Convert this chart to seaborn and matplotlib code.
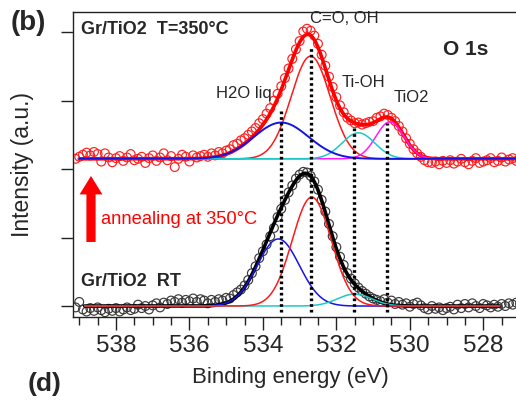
import numpy as np
import pandas as pd
import matplotlib
matplotlib.use("Agg")
import matplotlib.pyplot as plt
from matplotlib.patches import FancyArrow
import seaborn as sns

# ---------------- data ----------------
# measured points, 0.1 eV steps starting at 539.1 eV (intensity above own baseline)
e_start, e_step = 539.1, 0.1
i_350 = [0.00, 0.03, 0.06, 0.09, 0.05, 0.10, 0.07, -0.04, 0.08, 0.02,
         -0.05, 0.01, 0.04, -0.03, 0.02, 0.07, -0.02, 0.00, 0.03, -0.06,
         0.01, 0.05, -0.03, 0.02, 0.08, -0.02, 0.04, -0.12, 0.00, 0.06,
         0.03, -0.04, 0.05, 0.02, 0.04, 0.06, 0.03, 0.08, 0.05, 0.10,
         0.08, 0.12, 0.14, 0.20, 0.22, 0.27, 0.30, 0.35, 0.40, 0.45,
         0.52, 0.58, 0.66, 0.74, 0.85, 0.95, 1.06, 1.18, 1.32, 1.46,
         1.60, 1.72, 1.86, 1.90, 1.87, 1.80, 1.68, 1.52, 1.36, 1.20,
         1.05, 0.90, 0.78, 0.68, 0.60, 0.56, 0.52, 0.53, 0.50, 0.52,
         0.54, 0.55, 0.60, 0.62, 0.66, 0.64, 0.60, 0.55, 0.48, 0.40,
         0.30, 0.22, 0.14, 0.08, 0.03, -0.02, -0.05, -0.06, -0.04, -0.08,
         -0.03, -0.06, -0.02, -0.07, -0.04, 0.00, -0.05, -0.08, -0.03, 0.01,
         -0.06, -0.04, -0.02, 0.01, -0.05, -0.03, 0.02, -0.04, -0.01, 0.01,
         -0.03, -0.02]
i_rt = [-0.02, 0.06, -0.05, -0.08, -0.03, -0.07, -0.02, -0.06, -0.09, -0.04,
        -0.07, -0.03, -0.08, -0.05, -0.02, -0.06, -0.04, 0.02, -0.03, 0.00,
        -0.05, 0.01, 0.04, -0.02, 0.05, 0.03, 0.08, 0.06, 0.10, 0.05,
        0.09, 0.07, 0.11, 0.06, 0.10, 0.08, 0.04, 0.09, 0.06, 0.10,
        0.08, 0.12, 0.11, 0.16, 0.20, 0.24, 0.30, 0.38, 0.48, 0.58,
        0.70, 0.80, 0.90, 1.02, 1.14, 1.30, 1.42, 1.55, 1.66, 1.76,
        1.86, 1.92, 1.96, 1.95, 1.90, 1.82, 1.70, 1.55, 1.38, 1.20,
        1.02, 0.86, 0.72, 0.60, 0.48, 0.40, 0.33, 0.27, 0.22, 0.18,
        0.14, 0.11, 0.09, 0.07, 0.10, 0.05, 0.08, 0.03, 0.06, 0.02,
        0.04, -0.01, 0.03, 0.05, 0.01, -0.03, -0.05, 0.00, -0.04, -0.02,
        -0.06, -0.03, -0.01, -0.05, 0.02, -0.03, 0.03, -0.02, 0.04, 0.00,
        -0.03, 0.03, 0.01, -0.02, 0.02, -0.01, 0.03, 0.00, 0.04, 0.02,
        0.05, 0.03]
offset_350 = 2.15          # vertical stacking of the annealed spectrum

# fitted Gaussian components: name, centre (eV), height, FWHM (eV)
comp_names   = ["H2O liq", "C=O, OH", "Ti-OH", "TiO2"]
comp_colors  = ["#1414e6", "#ff1a1a", "#1ec8c8", "#ff1aff"]
c350_centre  = [533.50, 532.70, 531.40, 530.54]
c350_height  = [0.53, 1.50, 0.38, 0.54]
c350_fwhm    = [1.75, 1.25, 1.05, 0.90]
crt_centre   = [533.58, 532.67, 531.50]
crt_height   = [0.98, 1.59, 0.175]
crt_fwhm     = [1.35, 1.25, 1.10]
fit350_range = (539.0, 526.9)
fitrt_range  = (538.85, 527.55)

# dotted marker lines: position, top
mark_pos = [533.50, 532.70, 531.52, 530.62]
mark_top = [2.88, 3.77, 2.62, 2.68]
mark_bottom = -0.09

xticks_major = [538, 536, 534, 532, 530, 528]

# ---------------- style ----------------
sns.set_style("ticks")
plt.rcParams["font.family"] = ["Liberation Sans", "DejaVu Sans"]

fig = plt.figure(figsize=(5.16, 4.0), dpi=100)
W, H = 516, 400
ax_l, ax_r, ax_t, ax_b = 73, 520, 12.3, 317
ax = fig.add_axes([ax_l / W, 1 - ax_b / H, (ax_r - ax_l) / W, (ax_b - ax_t) / H])


def gauss(x, c, h, fwhm):
    s = fwhm / 2.3548
    return h * np.exp(-(x - c) ** 2 / (2 * s * s))


energy_350 = np.round(e_start - e_step * np.arange(len(i_350)), 2)
energy_rt = np.round(e_start - e_step * np.arange(len(i_rt)), 2)

# ---- annealed spectrum (350 C) ----
df350 = pd.DataFrame({"E": energy_350, "I": np.array(i_350) + offset_350})
sns.scatterplot(data=df350, x="E", y="I", ax=ax, marker="o", s=40,
                facecolor="none", edgecolor="#ff2020", linewidth=0.85, zorder=2)
g350 = np.linspace(*fit350_range, 700)
comps350 = [gauss(g350, c, h, f) for c, h, f in zip(c350_centre, c350_height, c350_fwhm)]
sns.lineplot(x=g350, y=np.sum(comps350, axis=0) + offset_350, ax=ax, color="#ff0000",
             lw=2.6, estimator=None, sort=False, zorder=3)
for idx in [1, 3, 2, 0]:
    sns.lineplot(x=g350, y=comps350[idx] + offset_350, ax=ax, color=comp_colors[idx],
                 lw=1.1 if idx != 0 else 1.4, estimator=None, sort=False, zorder=4)

# ---- RT spectrum ----
dfrt = pd.DataFrame({"E": energy_rt, "I": i_rt})
sns.scatterplot(data=dfrt, x="E", y="I", ax=ax, marker="o", s=40,
                facecolor="none", edgecolor="#3a3a3a", linewidth=0.85, zorder=2)
grt = np.linspace(*fitrt_range, 600)
compsrt = [gauss(grt, c, h, f) for c, h, f in zip(crt_centre, crt_height, crt_fwhm)]
sns.lineplot(x=grt, y=np.sum(compsrt, axis=0), ax=ax, color="black",
             lw=2.6, estimator=None, sort=False, zorder=3)
for idx in [0, 2, 1]:
    sns.lineplot(x=grt, y=compsrt[idx], ax=ax, color=comp_colors[idx],
                 lw=1.1, estimator=None, sort=False, zorder=4)

# ---- dotted marker lines ----
for p, t in zip(mark_pos, mark_top):
    ax.plot([p, p], [mark_bottom, t], color="black", lw=2.4,
            linestyle=(0, (0.8, 0.9)), zorder=5)

# ---- axes ----
ax.set_xlim(539.17, 527.0)
ax.set_ylim(-0.16, 4.29)
ax.set_xticks(xticks_major)
ax.set_xticks(np.arange(527.5, 539.01, 0.5), minor=True)
ax.set_yticks([0, 1, 2, 3, 4])
ax.set_yticklabels([])
ax.tick_params(axis="x", which="major", direction="out", length=9.5, width=1.0,
               labelsize=17.5, pad=3.5, color="#222222")
ax.tick_params(axis="x", which="minor", direction="out", length=5.5, width=1.0,
               color="#222222")
ax.tick_params(axis="y", which="major", direction="out", length=9, width=1.0,
               color="#222222")
for sp in ax.spines.values():
    sp.set_color("#222222")
    sp.set_linewidth(1.0)
ax.set_xlabel("Binding energy (eV)", fontsize=16)
ax.xaxis.set_label_coords((290 - ax_l) / (ax_r - ax_l), -(367 - ax_b) / (ax_b - ax_t))
ax.set_ylabel("Intensity (a.u.)", fontsize=16.5)
ax.yaxis.set_label_coords(-(73 - 34) / (ax_r - ax_l), 0.5)

# ---- annotations ----
ax.text(538.95, 4.035, "Gr/TiO2  T=350°C", fontsize=13, fontweight="bold",
        ha="left", va="center")
ax.text(538.95, (306 - 281) / 68.4, "Gr/TiO2  RT", fontsize=13,
        fontweight="bold", ha="left", va="center")
ax.text(531.77, 4.196, "C=O, OH", fontsize=12, ha="center", va="center")
ax.text(528.47, (306 - 50) / 68.4, "O 1s", fontsize=15, fontweight="bold",
        ha="center", va="center")
ax.text(534.52, (306 - 94) / 68.4, "H2O liq", fontsize=12, ha="center", va="center")
ax.text(531.25, (306 - 83) / 68.4, "Ti-OH", fontsize=12, ha="center", va="center")
ax.text(529.97, (306 - 98) / 68.4, "TiO2", fontsize=12, ha="center", va="center")
ax.text(538.41, (306 - 220) / 68.4, "annealing at 350°C", fontsize=13.2,
        color="#ff0000", ha="left", va="center")
ax.add_patch(FancyArrow(538.68, (306 - 242) / 68.4, 0, (242 - 176) / 68.4,
                        width=0.25, head_width=0.62, head_length=0.27,
                        length_includes_head=True, color="#ff0000", lw=0,
                        zorder=6))

fig.text(28 / W, 1 - 23 / H, "(b)", fontsize=20, fontweight="bold",
         ha="center", va="center")
fig.text(45 / W, 1 - 384 / H, "(d)", fontsize=19, fontweight="bold",
         ha="center", va="center")

fig.savefig("out.png", dpi=100)
